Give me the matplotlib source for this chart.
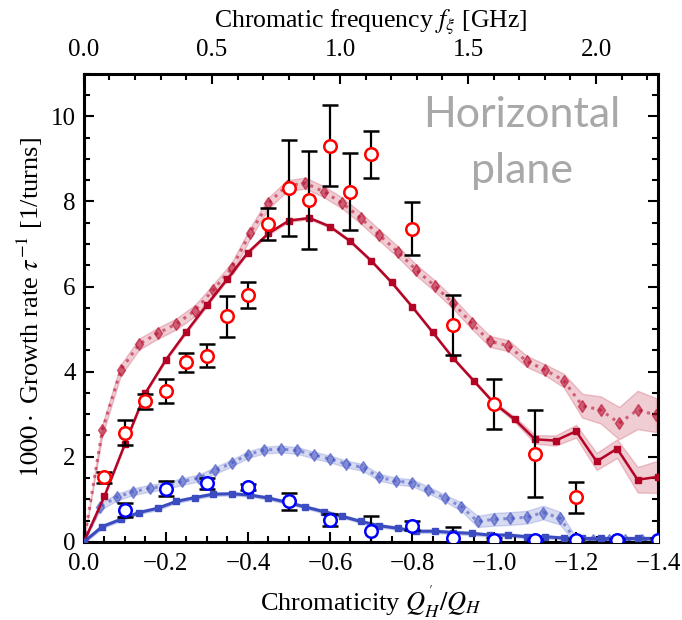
import numpy as np
import matplotlib.pyplot as plt

plt.rcParams['font.family'] = 'serif'
plt.rcParams['font.serif'] = ['Liberation Serif']
plt.rcParams['mathtext.fontset'] = 'stix'
plt.rcParams['font.size'] = 18

# simulation grids (chromaticity Q'/Q, plotted as negative values)
x_sq_red = np.arange(29) * 0.05
x_sim = np.arange(32) * 0.045
x_blue_d = np.arange(36) * 0.04

# simulation: solid line / squares
red_sq = [0.0, 1.07, 2.30, 3.50, 4.28, 4.94, 5.57, 6.18, 6.80, 7.25, 7.55, 7.61, 7.41, 7.06,
          6.61, 6.10, 5.53, 4.93, 4.32, 3.79, 3.26, 2.88, 2.41, 2.38, 2.60, 1.89, 2.19, 1.46, 1.53]
red_sq_err = [0.0, 0.02, 0.03, 0.03, 0.03, 0.03, 0.03, 0.03, 0.03, 0.03, 0.03, 0.03, 0.03, 0.03,
              0.03, 0.03, 0.03, 0.03, 0.03, 0.03, 0.04, 0.06, 0.10, 0.12, 0.15, 0.20, 0.22, 0.30, 0.38]
blue_sq = [0.0, 0.36, 0.53, 0.69, 0.79, 0.95, 1.04, 1.12, 1.13, 1.10, 1.03, 0.93, 0.82, 0.71,
           0.60, 0.48, 0.38, 0.32, 0.25, 0.25, 0.22, 0.20, 0.16, 0.16, 0.12, 0.12, 0.09, 0.08,
           0.08, 0.08, 0.08, 0.08]
blue_sq_err = [0.04] * 32

# simulation: dotted line / diamonds
red_d = [0.0, 2.63, 4.04, 4.65, 4.90, 5.12, 5.43, 5.92, 6.43, 7.25, 7.96, 8.37, 8.43, 8.23,
         7.96, 7.61, 7.21, 6.82, 6.39, 6.02, 5.61, 5.14, 4.71, 4.61, 4.24, 4.04, 3.79, 3.20,
         3.10, 2.79, 3.10, 2.98]
red_d_err = [0.0] + [0.13] * 25 + [0.16, 0.28, 0.32, 0.38, 0.45, 0.40]
blue_d = [0.0, 0.83, 1.05, 1.18, 1.26, 1.32, 1.42, 1.50, 1.68, 1.85, 2.05, 2.16, 2.18, 2.15,
          2.04, 1.95, 1.83, 1.75, 1.52, 1.43, 1.39, 1.22, 1.03, 0.83, 0.48, 0.53, 0.55, 0.58,
          0.69, 0.56, 0.04, 0.04, 0.04, 0.05, 0.05, 0.05]
blue_d_err = [0.0] + [0.08] * 22 + [0.10, 0.13, 0.15, 0.15, 0.15, 0.16, 0.15, 0.07] + [0.04] * 5

# measurements
red_x = [0.05, 0.10, 0.15, 0.20, 0.25, 0.30, 0.35, 0.40, 0.45, 0.50, 0.55, 0.60, 0.65, 0.70,
         0.80, 0.90, 1.00, 1.10, 1.20]
red_y = [1.52, 2.57, 3.30, 3.55, 4.22, 4.37, 5.30, 5.80, 7.47, 8.31, 8.04, 9.31, 8.23, 9.11,
         7.36, 5.10, 3.24, 2.07, 1.05]
red_err = [0.13, 0.30, 0.18, 0.28, 0.22, 0.27, 0.48, 0.31, 0.37, 1.13, 1.15, 0.95, 0.90, 0.55,
           0.63, 0.70, 0.59, 1.02, 0.36]
blue_x = [0.1, 0.2, 0.3, 0.4, 0.5, 0.6, 0.7, 0.8, 0.9, 1.0, 1.1, 1.2, 1.3, 1.4]
blue_y = [0.75, 1.25, 1.38, 1.30, 0.95, 0.52, 0.26, 0.38, 0.10, 0.05, 0.04, 0.04, 0.04, 0.05]
blue_err = [0.17, 0.17, 0.13, 0.07, 0.21, 0.14, 0.34, 0.10, 0.24, 0.03, 0.03, 0.03, 0.03, 0.03]

ghz_per_chroma = 1.6016

c_red = '#b40426'
c_blue = '#3b4cc0'

fig = plt.figure(figsize=(6.82, 6.2), dpi=100)
ax = fig.add_axes([0.123, 0.126, 0.842, 0.755])


def band(x, y, e, color, alpha):
    x = -np.asarray(x)
    y = np.asarray(y)
    e = np.asarray(e)
    ax.fill_between(x, y - e, y + e, color=color, alpha=alpha, lw=1, zorder=1)


band(x_sim, red_d, red_d_err, c_red, 0.2)
band(x_sq_red, red_sq, red_sq_err, c_red, 0.2)
band(x_blue_d, blue_d, blue_d_err, c_blue, 0.2)
band(x_sim, blue_sq, blue_sq_err, c_blue, 0.2)

ax.plot(-x_sim, red_d, ls=':', lw=2.2, marker='d', ms=6.5, color=c_red, alpha=0.55, zorder=2)
ax.plot(-x_blue_d, blue_d, ls=':', lw=2.2, marker='d', ms=6.5, color=c_blue, alpha=0.55, zorder=2)
ax.plot(-x_sq_red, red_sq, ls='-', lw=1.8, marker='s', ms=4.5, color=c_red, zorder=3)
ax.plot(-x_sim, blue_sq, ls='-', lw=2.2, marker='s', ms=4.5, color=c_blue, zorder=3)

ax.errorbar(-np.array(red_x), red_y, yerr=red_err, fmt='o', ms=9, mfc='white', mec='red',
            mew=1.8, ecolor='black', elinewidth=1.6, capsize=6, capthick=1.6, zorder=5)
ax.errorbar(-np.array(blue_x), blue_y, yerr=blue_err, fmt='o', ms=9, mfc='white', mec='blue',
            mew=1.8, ecolor='black', elinewidth=1.6, capsize=6, capthick=1.6, zorder=5)

ax.set_xlim(0, -1.4)
ax.set_ylim(0, 11)
ax.set_xticks(np.arange(0, -1.41, -0.2))
ax.set_xticks(np.arange(0, -1.41, -0.05), minor=True)
ax.set_yticks(np.arange(0, 11, 2))
ax.set_yticks(np.arange(0, 11.01, 0.5), minor=True)
ax.tick_params(which='both', direction='in', width=1.5, right=True, top=False)
ax.tick_params(which='major', length=7)
ax.tick_params(which='minor', length=4)
ax.tick_params(axis='x', pad=8)
ax.tick_params(axis='y', pad=6)
for s in ax.spines.values():
    s.set_linewidth(2.2)

ax.set_xlabel(r"Chromaticity $Q^{'}_{H}/Q_H$", fontsize=19, labelpad=6)
ax.set_ylabel(r"$1000\cdot$ Growth rate $\tau^{-1}$ [1/turns]", fontsize=19, labelpad=4)

top = ax.secondary_xaxis('top', functions=(lambda x: -x * ghz_per_chroma,
                                           lambda f: -f / ghz_per_chroma))
top.set_xticks(np.arange(0, 2.21, 0.5))
top.set_xticks(np.arange(0, 2.25, 0.1), minor=True)
top.tick_params(which='both', direction='in', width=1.5, pad=9)
top.tick_params(which='major', length=7)
top.tick_params(which='minor', length=4)
top.set_xlabel(r"Chromatic frequency $f_\xi$ [GHz]", fontsize=18.5, labelpad=8)

ax.text(-1.068, 9.75, 'Horizontal', family='Lato', fontsize=31, color='#a8a8a8',
        ha='center', va='baseline')
ax.text(-1.068, 8.44, 'plane', family='Lato', fontsize=31, color='#a8a8a8',
        ha='center', va='baseline')

fig.savefig('out.png', dpi=100)
